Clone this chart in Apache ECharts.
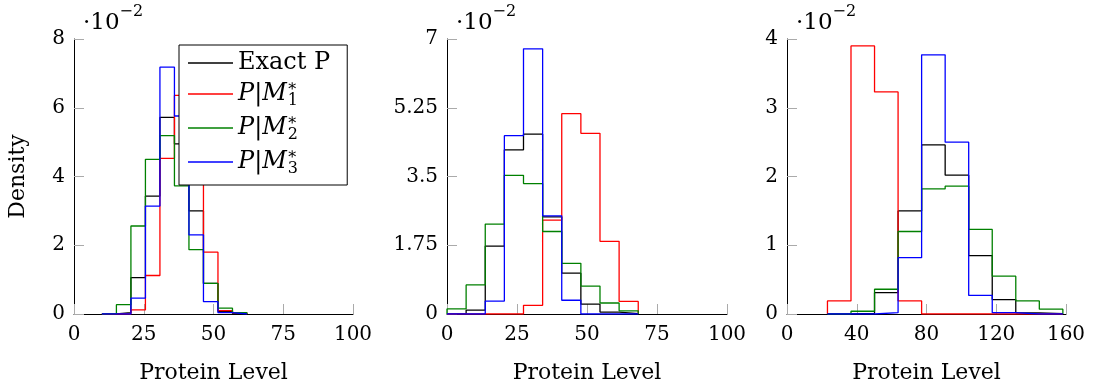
<!DOCTYPE html>
<html>
<head>
<meta charset="utf-8">
<script src="https://cdn.jsdelivr.net/npm/echarts@6/dist/echarts.min.js"></script>
<style>
html,body{margin:0;padding:0;background:#fff;}
#chart{width:1093px;height:389px;}
</style>
</head>
<body>
<div id="chart"></div>
<script>
// Values are densities in units of 10^-2
const seriesNames = ['Exact P', 'P|M1*', 'P|M2*', 'P|M3*'];
const seriesColors = ['#000000', '#ff0000', '#008000', '#0000ff'];

// Panel 1
const edges1 = [10, 15.2, 20.4, 25.6, 30.8, 36, 41.2, 46.4, 51.6, 56.8, 62];
const p1Exact = [0, 0.04, 1.06, 3.43, 5.72, 4.95, 3.0, 0.89, 0.08, 0.02];
const p1M1 = [0, 0, 0.12, 1.12, 4.53, 6.36, 4.4, 1.8, 0.1, 0.03];
const p1M2 = [0.01, 0.27, 2.56, 4.5, 5.19, 3.73, 1.87, 0.89, 0.17, 0.04];
const p1M3 = [0, 0, 0.46, 3.14, 7.18, 5.76, 2.3, 0.36, 0.04, 0];

// Panel 2
const edges2 = [0, 6.83, 13.66, 20.49, 27.32, 34.15, 40.98, 47.81, 54.64, 61.47, 68.3];
const p2Exact = [0, 0.1, 1.73, 4.18, 4.58, 2.47, 1.04, 0.25, 0.05, 0.01];
const p2M1 = [0, 0, 0, 0, 0.22, 2.39, 5.1, 4.6, 1.85, 0.32];
const p2M2 = [0.13, 0.74, 2.29, 3.53, 3.32, 2.1, 1.29, 0.71, 0.28, 0.08];
const p2M3 = [0, 0, 0.33, 4.54, 6.75, 2.5, 0.35, 0, 0, 0];

// Panel 3
const edges3 = [23.2, 36.7, 50.2, 63.7, 77.2, 90.7, 104.2, 117.7, 131.2, 144.7, 158.2];
const p3Exact = [0, 0.01, 0.31, 1.5, 2.46, 2.02, 0.85, 0.21, 0.015, 0.005];
const p3M1 = [0.19, 3.9, 3.23, 0.19, 0, 0, 0, 0, 0, 0];
const p3M2 = [0, 0.04, 0.36, 1.2, 1.82, 1.86, 1.23, 0.55, 0.19, 0.07];
const p3M3 = [0, 0, 0.02, 0.82, 3.77, 2.5, 0.27, 0.02, 0, 0];

// Axis ticks
const xTicks1 = {min: 0, max: 100, interval: 25};
const yTicks1 = {min: 0, max: 8, interval: 2};
const xTicks2 = {min: 0, max: 100, interval: 25};
const yTicks2 = {min: 0, max: 7, interval: 1.75};
const xTicks3 = {min: 0, max: 160, interval: 40};
const yTicks3 = {min: 0, max: 4, interval: 1};

const FONT = 'DejaVu Serif';

function stepPoints(edges, h) {
  const pts = [[edges[0], 0]];
  for (let i = 0; i < h.length; i++) {
    pts.push([edges[i], h[i]]);
    pts.push([edges[i + 1], h[i]]);
  }
  pts.push([edges[edges.length - 1], 0]);
  return pts;
}

const panels = [
  {edges: edges1, data: [p1Exact, p1M1, p1M2, p1M3], x: xTicks1, y: yTicks1, left: 74, width: 279},
  {edges: edges2, data: [p2Exact, p2M1, p2M2, p2M3], x: xTicks2, y: yTicks2, left: 447, width: 280},
  {edges: edges3, data: [p3Exact, p3M1, p3M2, p3M3], x: xTicks3, y: yTicks3, left: 787, width: 279}
];

const grids = [], xAxes = [], yAxes = [], series = [], graphics = [];
panels.forEach((p, k) => {
  grids.push({left: p.left, top: 39, width: p.width, height: 278, containLabel: false});
  xAxes.push({
    type: 'value', gridIndex: k, min: p.x.min, max: p.x.max, interval: p.x.interval,
    name: 'Protein Level', nameLocation: 'middle', nameGap: 48,
    nameTextStyle: {fontFamily: FONT, fontSize: 22, color: '#000'},
    axisLine: {show: true, lineStyle: {color: '#000', width: 1}},
    axisTick: {show: true, inside: true, length: 10, lineStyle: {color: '#aaa'}},
    axisLabel: {fontFamily: FONT, fontSize: 20, color: '#000', margin: 11},
    splitLine: {show: false}
  });
  yAxes.push({
    type: 'value', gridIndex: k, min: p.y.min, max: p.y.max, interval: p.y.interval,
    name: k === 0 ? 'Density' : '', nameLocation: 'middle', nameGap: 45,
    nameTextStyle: {fontFamily: FONT, fontSize: 22, color: '#000'},
    axisLine: {show: true, lineStyle: {color: '#000', width: 1}},
    axisTick: {show: true, inside: true, length: 10, lineStyle: {color: '#aaa'}},
    axisLabel: {fontFamily: FONT, fontSize: 20, color: '#000', margin: 9},
    splitLine: {show: false}
  });
  p.data.forEach((h, s) => {
    series.push({
      type: 'line', name: seriesNames[s], xAxisIndex: k, yAxisIndex: k,
      data: stepPoints(p.edges, h), symbol: 'none', showSymbol: false,
      lineStyle: {color: seriesColors[s], width: 1.3},
      itemStyle: {color: seriesColors[s]},
      emphasis: {disabled: true}, animation: false
    });
  });
  graphics.push({
    type: 'text', left: p.left + 9, top: 4,
    style: {
      text: '{a|·10}{s|−2}',
      rich: {
        a: {fontFamily: FONT, fontSize: 23, lineHeight: 38, fill: '#000'},
        s: {fontFamily: FONT, fontSize: 16, lineHeight: 16, verticalAlign: 'top', fill: '#000'}
      }
    }
  });
});

const chart = echarts.init(document.getElementById('chart'), null, {renderer: 'canvas'});
chart.setOption({
  animation: false,
  backgroundColor: '#fff',
  grid: grids,
  xAxis: xAxes,
  yAxis: yAxes,
  series: series,
  graphic: graphics,
  legend: {
    data: seriesNames,
    orient: 'vertical',
    left: 179, top: 45,
    padding: [6, 17, 8, 9],
    itemGap: 4,
    itemWidth: 45, itemHeight: 1.3,
    icon: 'rect',
    backgroundColor: '#fff',
    borderColor: '#000', borderWidth: 1,
    selectedMode: false,
    formatter: function (name) {
      if (name === 'Exact P') return '{t|Exact P}';
      const k = name.charAt(3);
      return '{i|P}{t||}{i|M}{s|∗}{b|' + k + '}';
    },
    textStyle: {
      fontFamily: FONT, fontSize: 24, color: '#000',
      rich: {
        t: {fontFamily: FONT, fontSize: 24, lineHeight: 30, color: '#000'},
        i: {fontFamily: FONT, fontStyle: 'italic', fontSize: 24, lineHeight: 30, color: '#000'},
        s: {fontFamily: FONT, fontSize: 16, lineHeight: 14, verticalAlign: 'top', width: 1, color: '#000'},
        b: {fontFamily: FONT, fontSize: 16, lineHeight: 14, verticalAlign: 'bottom', color: '#000'}
      }
    }
  }
});
</script>
</body>
</html>
